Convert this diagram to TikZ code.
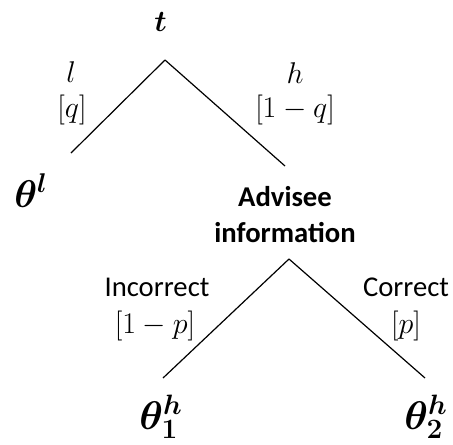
\RequirePackage{fix-cm}
\documentclass[tikz,border=0pt]{standalone}
\usepackage{amsmath}
\usepackage{bm}
\usepackage{fontspec}
\setsansfont{Carlito}
\begin{document}
\begin{tikzpicture}[x=0.75pt,y=-0.75pt,
  branch/.style={draw=black, line width=0.9pt},
  lab/.style={inner sep=0pt, font=\sffamily\fontsize{21.5}{26}\selectfont, align=center},
  mlab/.style={inner sep=0pt, font=\fontsize{22.5}{26}\selectfont},
  terml/.style={inner sep=0pt, anchor=base west, font=\fontsize{29}{34}\selectfont},
  termh/.style={inner sep=0pt, anchor=base west, font=\fontsize{30}{35}\selectfont},
  head/.style={inner sep=0pt, font=\sffamily\bfseries\fontsize{21.5}{27}\selectfont, align=center}]
\useasboundingbox (0,0) rectangle (453,444);
% first chance node
\node[mlab, anchor=base] (t) at (160.5,31) {$\bm{t}$};
\coordinate (a1) at (165,60);
\coordinate (l1) at (71,153);
\coordinate (r1) at (285,166);
\draw[branch] (a1) -- (l1);
\draw[branch] (a1) -- (r1);
\node[mlab, anchor=base] (ll) at (71,82) {$l$};
\node[mlab] (lq) at (72,110) {$[q]$};
\node[mlab, anchor=base] (hl) at (295,83) {$h$};
\node[mlab] (hq) at (295,110) {$[1-q]$};
\node[terml] (thl) at (14,207) {$\bm{\theta^{l}}$};
% second chance node
\node[head] (adv) at (285,215) {Advisee\\information};
\coordinate (a2) at (289,259);
\coordinate (l2) at (163,378);
\coordinate (r2) at (425,378);
\draw[branch] (a2) -- (l2);
\draw[branch] (a2) -- (r2);
\node[lab] (inc) at (157,287) {Incorrect};
\node[mlab] (incp) at (155,326) {$[1-p]$};
\node[lab] (cor) at (406,287) {Correct};
\node[mlab] (corp) at (406,326) {$[p]$};
\node[termh] (th1) at (139,429) {$\bm{\theta^{h}_{1}}$};
\node[termh] (th2) at (404,429) {$\bm{\theta^{h}_{2}}$};
\end{tikzpicture}
\end{document}
